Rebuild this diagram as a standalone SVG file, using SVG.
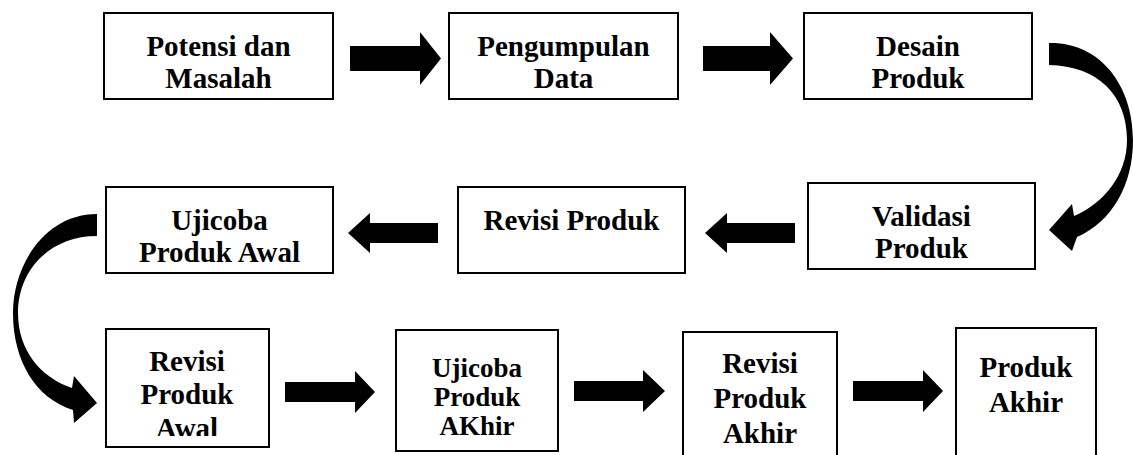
<svg xmlns="http://www.w3.org/2000/svg" width="1133" height="455" viewBox="0 0 1133 455">
<style>
.box{fill:#fff;stroke:#000;stroke-width:2}
.t{font-family:'Times New Roman','Liberation Serif',Tinos,'DejaVu Serif','Noto Serif',FreeSerif,serif;font-weight:bold;font-size:29px;fill:#000;text-anchor:middle}
.s{font-size:27px}
.ar{fill:#000;stroke:none}
</style>
<defs>
<clipPath id="clipAwal"><rect x="100" y="320" width="180" height="116"/></clipPath>
</defs>
<rect width="1133" height="455" fill="#fff"/>
<g id="connectors">
<polygon class="ar" points="350,46 420,46 420,32 441,58.5 420,85 420,71 350,71"/>
<polygon class="ar" points="703,46 770,46 770,32 793,58.5 770,85 770,71 703,71"/>
<path class="ar" d="M1049,43 C1100,42 1133,85 1133,140 C1133,185 1112,222 1077,237 L1072,251 L1049,230 L1072,204 L1074,216 C1104,203 1127,175 1127,140 C1127,95 1098,66 1049,65 Z"/>
<polygon class="ar" points="795,223 727,223 727,213 705,233 727,253 727,243 795,243"/>
<polygon class="ar" points="438,223 370,223 370,213 348,233 370,253 370,243 438,243"/>
<path class="ar" d="M97,214 C45,214 13,265 13,313 C13,360 35,398 73,410 L74,423 L97,403 L74,376 L72,388 C40,377 18,350 18,313 C18,270 50,236 97,236 Z"/>
<polygon class="ar" points="285,382 355,382 355,371 375,392 355,413 355,402 285,402"/>
<polygon class="ar" points="574,381 643,381 643,370 665,391 643,412 643,401 574,401"/>
<polygon class="ar" points="853,381 923,381 923,370 943,391 923,412 923,401 853,401"/>
</g>
<g id="n1"><rect class="box" x="104" y="13" width="229" height="86"/><text class="t" x="218.5" y="56">Potensi dan</text><text class="t" x="218.5" y="88">Masalah</text></g>
<g id="n2"><rect class="box" x="449" y="13" width="229" height="86"/><text class="t" x="563.5" y="56">Pengumpulan</text><text class="t" x="563.5" y="88">Data</text></g>
<g id="n3"><rect class="box" x="804" y="13" width="228" height="86"/><text class="t" x="918" y="56">Desain</text><text class="t" x="918" y="88">Produk</text></g>
<g id="n4"><rect class="box" x="808" y="183" width="227" height="86"/><text class="t" x="921.5" y="226">Validasi</text><text class="t" x="921.5" y="258">Produk</text></g>
<g id="n5"><rect class="box" x="458" y="187" width="227" height="86"/><text class="t" x="571.5" y="230">Revisi Produk</text></g>
<g id="n6"><rect class="box" x="106" y="187" width="227" height="86"/><text class="t" x="219.5" y="230">Ujicoba</text><text class="t" x="219.5" y="262">Produk Awal</text></g>
<g id="n7"><rect class="box" x="106" y="329" width="163" height="118"/><text class="t" x="187" y="371">Revisi</text><text class="t" x="187" y="404">Produk</text><text class="t" x="187" y="438" clip-path="url(#clipAwal)">Awal</text></g>
<g id="n8"><rect class="box" x="396" y="330" width="162" height="121"/><text class="t s" x="477" y="377">Ujicoba</text><text class="t s" x="477" y="406">Produk</text><text class="t s" x="477" y="435">AKhir</text></g>
<g id="n9"><rect class="box" x="683" y="332" width="154" height="135"/><text class="t" x="760" y="373">Revisi</text><text class="t" x="760" y="408">Produk</text><text class="t" x="760" y="443">Akhir</text></g>
<g id="n10"><rect class="box" x="956" y="328" width="140" height="140"/><text class="t" x="1026" y="377">Produk</text><text class="t" x="1026" y="412">Akhir</text></g>
</svg>
